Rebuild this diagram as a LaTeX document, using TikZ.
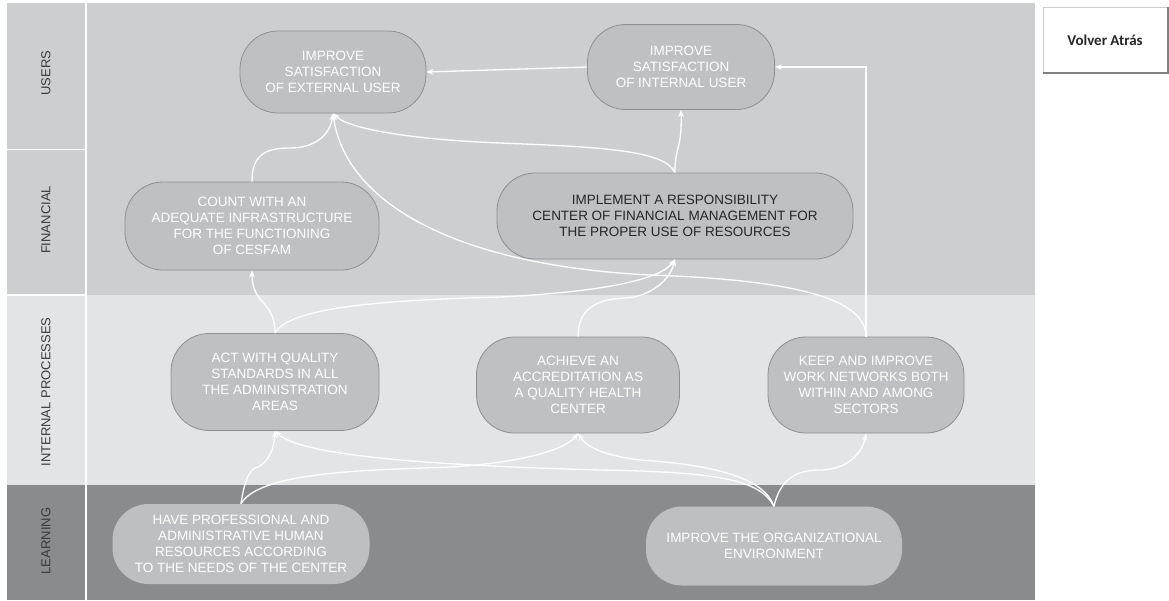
\documentclass[tikz,border=0pt]{standalone}
\usepackage{fontspec}
\setmainfont{Liberation Sans}
\newfontfamily\btnfont{Carlito}
\usetikzlibrary{arrows.meta}
\definecolor{bandtop}{HTML}{CDCECF}
\definecolor{bandmid}{HTML}{E3E4E5}
\definecolor{bandlow}{HTML}{8A8B8E}
\definecolor{nodefill}{HTML}{BFC0C3}
\definecolor{nodeedge}{HTML}{8E8F92}
\definecolor{lowfill}{HTML}{BEBFC2}
\definecolor{labeltext}{HTML}{3A3A3A}
\definecolor{darktext}{HTML}{262626}
\tikzset{
  goal/.style={draw=nodeedge, line width=0.8pt, fill=nodefill, rounded corners=38pt,
    align=center, text=white, font=\fontsize{13.5}{16}\selectfont, inner sep=0pt},
  lowgoal/.style={fill=lowfill, rounded corners=36pt,
    align=center, text=white, font=\fontsize{13.5}{16}\selectfont, inner sep=0pt},
  rowlabel/.style={rotate=90, text=labeltext, font=\fontsize{13}{16}\selectfont},
  conn/.style={draw=white, line width=1.3pt, -{Stealth[length=7pt,width=5.5pt]}},
  sep/.style={draw=white, line width=1.5pt}
}
\begin{document}
\begin{tikzpicture}[x=1pt,y=-1pt]
\useasboundingbox (0,0) rectangle (1169,600);
% bands
\fill[bandtop] (7,3) rectangle (1035,295);
\fill[bandmid] (7,295) rectangle (1035,485);
\fill[bandlow] (7,485) rectangle (1035,600);
% label column separators
\draw[sep] (86,3) -- (86,600);
\draw[sep] (7,149.5) -- (86,149.5);
\draw[sep] (7,295) -- (86,295);
% row labels
\node[rowlabel] (lusers) at (46,73) {USERS};
\node[rowlabel] (lfin) at (46,220) {FINANCIAL};
\node[rowlabel] (lint) at (46,392) {INTERNAL PROCESSES};
\node[rowlabel] (llearn) at (46,541) {LEARNING};
% goals
\node[goal, minimum width=186pt, minimum height=82pt] (ext) at (333,72)
  {IMPROVE\\SATISFACTION\\OF EXTERNAL USER};
\node[goal, minimum width=187pt, minimum height=85pt] (int) at (681,67)
  {IMPROVE\\SATISFACTION\\OF INTERNAL USER};
\node[goal, minimum width=254pt, minimum height=88pt] (count) at (252,226)
  {COUNT WITH AN\\ADEQUATE INFRASTRUCTURE\\FOR THE FUNCTIONING\\OF CESFAM};
\node[goal, text=darktext, minimum width=356pt, minimum height=86pt] (impl) at (675,216)
  {IMPLEMENT A RESPONSIBILITY\\CENTER OF FINANCIAL MANAGEMENT FOR\\THE PROPER USE OF RESOURCES};
\node[goal, minimum width=208pt, minimum height=97pt] (act) at (275,382)
  {ACT WITH QUALITY\\STANDARDS IN ALL\\THE ADMINISTRATION\\AREAS};
\node[goal, minimum width=203pt, minimum height=96pt] (ach) at (578,385)
  {ACHIEVE AN\\ACCREDITATION AS\\A QUALITY HEALTH\\CENTER};
\node[goal, minimum width=196pt, minimum height=96pt] (keep) at (866,385)
  {KEEP AND IMPROVE\\WORK NETWORKS BOTH\\WITHIN AND AMONG\\SECTORS};
\node[lowgoal, minimum width=257pt, minimum height=80pt] (have) at (241,544)
  {HAVE PROFESSIONAL AND\\ADMINISTRATIVE HUMAN\\RESOURCES ACCORDING\\TO THE NEEDS OF THE CENTER};
\node[lowgoal, minimum width=256pt, minimum height=79pt] (org) at (774,546)
  {IMPROVE THE ORGANIZATIONAL\\ENVIRONMENT};
% button
\fill[white] (1043,7) rectangle (1168,73);
\draw[gray!40, line width=0.6pt] (1043,73) -- (1043,7) -- (1168,7);
\draw[gray, line width=1.2pt] (1043,73) -- (1168,73) -- (1168,7);
\node[font=\btnfont\bfseries\fontsize{15}{17}\selectfont, text=darktext] (back) at (1105,40) {Volver Atrás};
% connectors
\draw[conn] (int.west) -- (ext.east);
\draw[conn] (keep.north) |- (int.east);
\draw[conn] (count.north) .. controls (252,155) and (265,148) .. (290,148)
  .. controls (315,148) and (330,135) .. (ext.south);
\draw[conn] (keep.north) .. controls (866,300) and (800,280) .. (650,275)
  .. controls (450,265) and (345,200) .. (ext.south);
\draw[conn] (impl.north) .. controls (665,150) and (600,147) .. (500,143)
  .. controls (420,140) and (350,130) .. (ext.south);
\draw[conn] (impl.north) .. controls (675,145) and (682,150) .. (int.south);
\draw[conn] (act.north) .. controls (275,300) and (252,305) .. (count.south);
\draw[conn] (act.north) .. controls (290,305) and (400,300) .. (500,297)
  .. controls (600,292) and (660,280) .. (impl.south);
\draw[conn] (ach.north) .. controls (578,310) and (595,299) .. (625,298)
  .. controls (650,297) and (670,280) .. (impl.south);
\draw[conn] (have.north) .. controls (245,475) and (252,468) .. (258,467)
  .. controls (268,462) and (274,450) .. (act.south);
\draw[conn] (have.north) .. controls (260,470) and (380,470) .. (450,467)
  .. controls (520,463) and (565,450) .. (ach.south);
\draw[conn] (org.north) .. controls (760,480) and (720,472) .. (600,470)
  .. controls (420,465) and (300,455) .. (act.south);
\draw[conn] (org.north) .. controls (765,480) and (720,465) .. (640,460)
  .. controls (600,455) and (585,445) .. (ach.south);
\draw[conn] (org.north) .. controls (780,480) and (795,470) .. (820,470)
  .. controls (845,470) and (862,455) .. (keep.south);
\end{tikzpicture}
\end{document}
